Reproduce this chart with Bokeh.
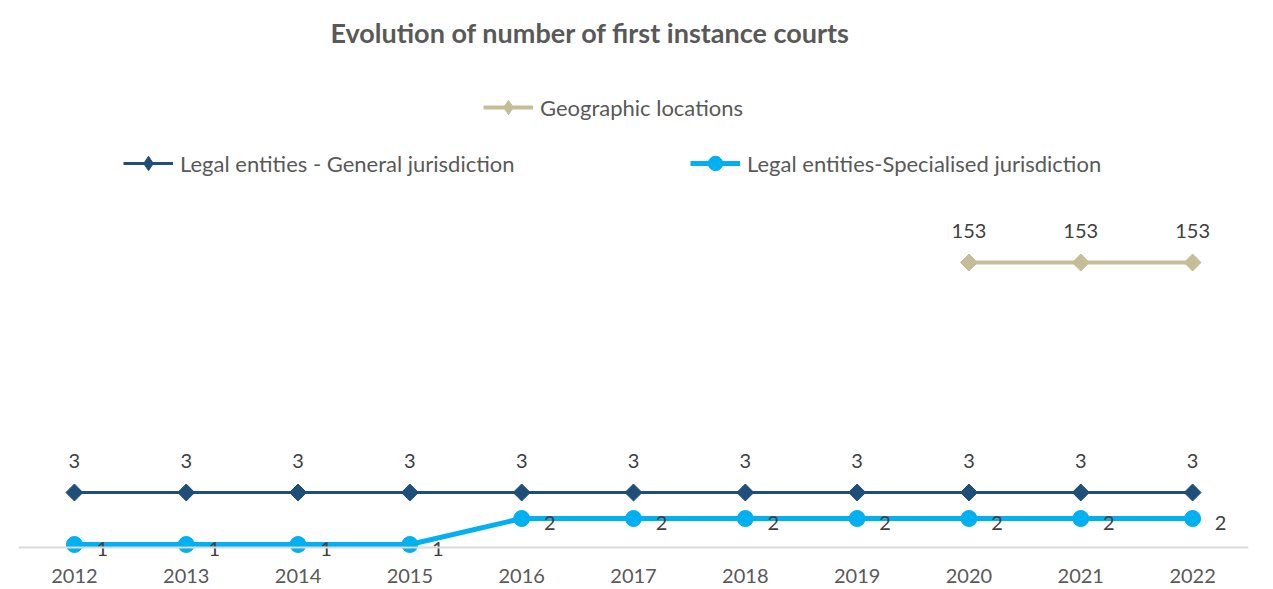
import math
from bokeh.plotting import figure
from bokeh.models import Range1d, FactorRange, Legend, LegendItem, Label, ColumnDataSource, Span
from bokeh.core.properties import value
from bokeh.embed import file_html
from bokeh.resources import INLINE

years = ["2012", "2013", "2014", "2015", "2016", "2017", "2018", "2019", "2020", "2021", "2022"]
general = [3, 3, 3, 3, 3, 3, 3, 3, 3, 3, 3]
specialised = [1, 1, 1, 1, 2, 2, 2, 2, 2, 2, 2]
geo_years = ["2020", "2021", "2022"]
geographic = [153, 153, 153]

FONT = "Lato"
TXT = "#404040"
FH = 589          # frame height in px
AX = 547          # pixel row of the category axis line

y0 = 1 - 3 / 26   # value sitting on the axis line
ystart = y0 - (FH - AX) / 26
p = figure(width=1263, height=FH, x_range=FactorRange(*years),
           y_range=Range1d(ystart, ystart + FH / 26),
           output_backend="svg", toolbar_location=None,
           x_axis_location=None, y_axis_location=None,
           min_border_left=18, min_border_right=15, min_border_top=0, min_border_bottom=0)
p.extra_y_ranges = {"geo": Range1d(0, 153 / ((FH - 262) / FH)),
                    "off": Range1d(1000, 1001)}  # keeps legend-only markers out of view
p.outline_line_color = None
p.xgrid.visible = False
p.ygrid.visible = False
p.background_fill_color = "white"
p.border_fill_color = "white"

# category axis line and labels
p.add_layout(Span(location=y0, dimension="width", line_color="#D9D9D9", line_width=2))
src_x = ColumnDataSource(dict(x=years, y=[y0] * len(years), t=years))
p.text("x", "y", text="t", source=src_x, y_offset=28, text_align="center", text_baseline="middle",
       text_font=value(FONT), text_font_size="20px", text_color="#595959")

src_g = ColumnDataSource(dict(x=years, y=general, t=[str(v) for v in general]))
src_s = ColumnDataSource(dict(x=years, y=specialised, t=[str(v) for v in specialised]))
src_geo = ColumnDataSource(dict(x=geo_years, y=geographic, t=[str(v) for v in geographic]))

C_G = "#1F4E79"
C_S = "#00B0F0"
C_GEO = "#C4BD97"

l_geo = p.line("x", "y", source=src_geo, y_range_name="geo", line_color=C_GEO, line_width=4)
p.scatter("x", "y", source=src_geo, y_range_name="geo", marker="square", size=12,
          angle=math.pi / 4, fill_color=C_GEO, line_color=C_GEO)
l_g = p.line("x", "y", source=src_g, line_color=C_G, line_width=3)
p.scatter("x", "y", source=src_g, marker="square", size=12, angle=math.pi / 4,
          fill_color=C_G, line_color=C_G)
l_s = p.line("x", "y", source=src_s, line_color=C_S, line_width=5)
m_s = p.scatter("x", "y", source=src_s, marker="circle", size=16, fill_color=C_S, line_color=C_S)

# legend-only diamond markers (plotted on an out-of-view range)
lm_geo = p.scatter("x", "y", source=src_geo, y_range_name="off", marker="diamond",
                   fill_color=C_GEO, line_color=C_GEO)
lm_g = p.scatter("x", "y", source=src_g, y_range_name="off", marker="diamond",
                 fill_color=C_G, line_color=C_G)

p.text("x", "y", text="t", source=src_g, y_offset=-32, text_align="center", text_baseline="middle",
       text_font=value(FONT), text_font_size="20px", text_color=TXT)
p.text("x", "y", text="t", source=src_geo, y_range_name="geo", y_offset=-32, text_align="center",
       text_baseline="middle", text_font=value(FONT), text_font_size="20px", text_color=TXT)
p.text("x", "y", text="t", source=src_s, x_offset=28, y_offset=4, text_align="center",
       text_baseline="middle", text_font=value(FONT), text_font_size="20px", text_color=TXT)

def make_legend(label, renderers, loc):
    lg = Legend(items=[LegendItem(label=label, renderers=renderers)], location=loc,
                orientation="horizontal", glyph_width=50, glyph_height=36, padding=0, margin=0,
                spacing=0, label_standoff=7, border_line_alpha=0, background_fill_alpha=0,
                label_text_font=FONT, label_text_font_size="22px", label_text_color="#595959",
                label_height=22)
    p.add_layout(lg)

dy = FH - AX
make_legend("Geographic locations", [l_geo, lm_geo], (465, 422 + dy))
make_legend("Legal entities - General jurisdiction", [l_g, lm_g], (105, 366 + dy))
make_legend("Legal entities-Specialised jurisdiction", [l_s, m_s], (672, 366 + dy))

p.add_layout(Label(x=572, y=FH - 32, x_units="screen", y_units="screen",
                   text="Evolution of number of first instance courts", text_align="center",
                   text_baseline="middle", text_font=FONT, text_font_size="27px",
                   text_font_style="bold", text_color="#595959"))

open("out.html", "w").write(file_html(p, INLINE))
